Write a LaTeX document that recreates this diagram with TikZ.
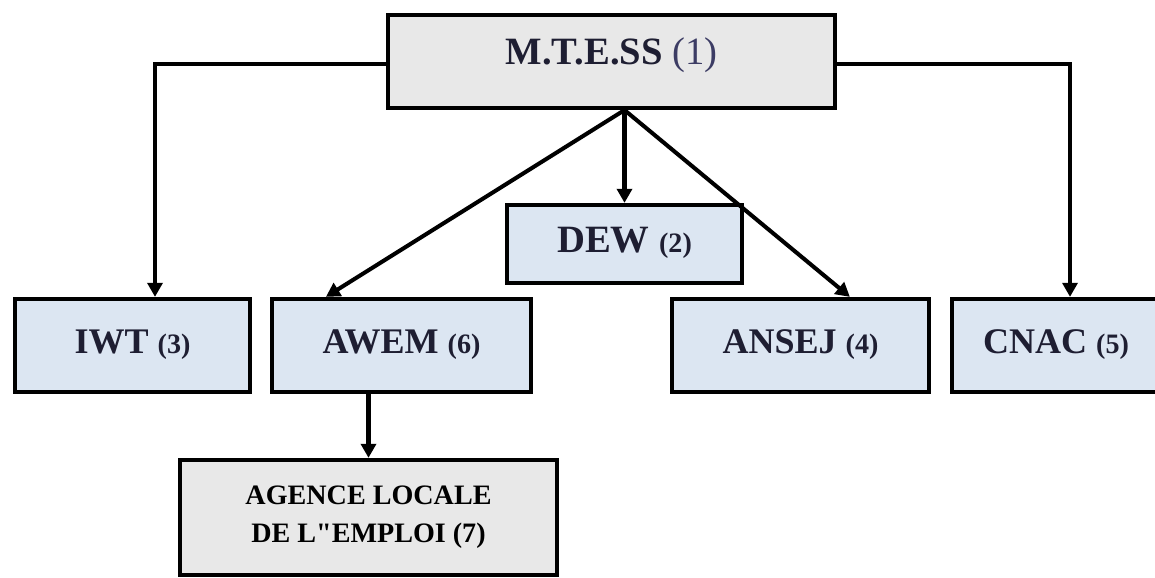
\documentclass[tikz,border=0pt]{standalone}
\usepackage{fontspec}
\setmainfont{Liberation Serif}
\newfontfamily\plainserif{Liberation Serif}
\usetikzlibrary{arrows.meta,calc}

\definecolor{boxgray}{HTML}{E8E8E8}
\definecolor{boxblue}{HTML}{DCE6F2}
\definecolor{numblue}{HTML}{3C3C64}
\definecolor{txtdark}{HTML}{1E1E32}

\newcommand{\orgname}[2]{\textbf{#1} {\fontsize{16}{16}\selectfont\textbf{(#2)}}}

\begin{document}
\begin{tikzpicture}[
    box/.style={draw, line width=2.4pt, inner sep=0pt, align=center, text=txtdark},
    graybox/.style={box, fill=boxgray},
    bluebox/.style={box, fill=boxblue},
    rowbox/.style={bluebox, minimum height=1.86cm, text height=15pt, text depth=5.4pt,
        font=\fontsize{20.5}{20.5}\selectfont},
    arr/.style={line width=2.3pt, -{Triangle[length=8pt,width=8.5pt]}}
]
    \useasboundingbox (0,0) rectangle (23.1,11.56);

    \node[graybox, minimum width=8.94cm, minimum height=1.86cm, text height=16pt, text depth=12.2pt,
        font=\fontsize{22}{22}\selectfont] (mtess) at (12.23,10.33) {\textbf{M.T.E.SS} \textcolor{numblue}{(1)}};
    \node[bluebox, minimum width=4.70cm, minimum height=1.56cm, text height=16pt, text depth=6pt,
        font=\fontsize{22}{22}\selectfont] (dew) at (12.49,6.68) {\orgname{DEW}{2}};

    \node[rowbox, minimum width=4.70cm] (iwt) at (2.65,4.65) {\orgname{IWT}{3}};
    \node[rowbox, minimum width=5.18cm] (awem) at (8.03,4.65) {\orgname{AWEM}{6}};
    \node[rowbox, minimum width=5.14cm] (ansej) at (16.01,4.65) {\orgname{ANSEJ}{4}};
    \node[rowbox, minimum width=4.16cm] (cnac) at (21.12,4.65) {\orgname{CNAC}{5}};

    \node[graybox, minimum width=7.54cm, minimum height=2.30cm, text=black,
        font=\fontsize{16}{21.6}\selectfont\plainserif\bfseries] (agence) at (7.37,1.21)
        {AGENCE LOCALE\\DE L"EMPLOI (7)};

    % side branches
    \coordinate (lcorner) at (3.10,10.28);
    \coordinate (rcorner) at (21.40,10.28);
    \draw[arr] (mtess.west |- lcorner) -- (lcorner) -- (lcorner |- iwt.north);
    \draw[arr] (mtess.east |- rcorner) -- (rcorner) -- (rcorner |- cnac.north);

    % fan out under the top box
    \coordinate (hub) at (dew.north |- mtess.south);
    \draw[arr] (hub) -- (dew.north);
    \draw[arr] (hub) -- ($(awem.north west)+(1.12,0)$);
    \draw[arr] (hub) -- ($(ansej.north west)+(3.60,0)$);

    \draw[arr] (agence.north |- awem.south) -- (agence.north);

\end{tikzpicture}
\end{document}
